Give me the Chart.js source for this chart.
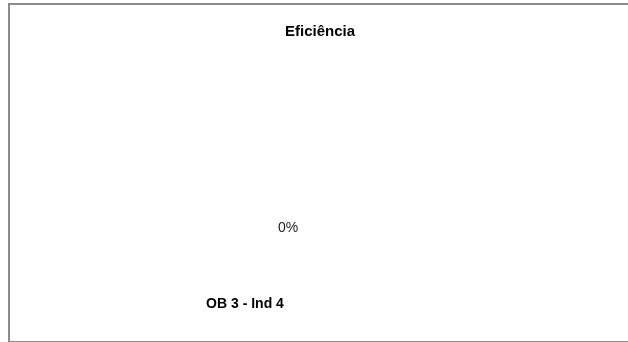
<!DOCTYPE html>
<html>
<head>
<meta charset="utf-8">
<script src="https://cdn.jsdelivr.net/npm/chart.js@4"></script>
<style>
  html, body { margin: 0; padding: 0; background: #fff; overflow: hidden; }
  #frame {
    position: absolute; left: 8px; top: 3px; width: 660px; height: 336px;
    border-top: 2px solid #8a8a8a; border-left: 2px solid #8a8a8a; border-bottom: 2px solid #8a8a8a;
  }
  #chart { position: absolute; left: 0; top: 0; }
</style>
</head>
<body>
<div id="frame"></div>
<canvas id="chart" width="628" height="342"></canvas>
<script>
const categories = ['OB 3 - Ind 4'];
const efficiency = [0];
const chartTitle = 'Eficiência';

// draws "0%" above each bar, like the excel data label
const valueLabels = {
  id: 'valueLabels',
  afterDatasetsDraw(chart) {
    const ctx = chart.ctx;
    ctx.save();
    ctx.font = '14px "Liberation Sans", sans-serif';
    ctx.fillStyle = '#222';
    ctx.textAlign = 'center';
    ctx.textBaseline = 'middle';
    chart.getDatasetMeta(0).data.forEach((bar, i) => {
      ctx.fillText(Math.round(efficiency[i] * 100) + '%', bar.x - 32, bar.y - 10);
    });
    ctx.restore();
  }
};

new Chart(document.getElementById('chart').getContext('2d'), {
  type: 'bar',
  data: {
    labels: categories,
    datasets: [{
      label: chartTitle,
      data: efficiency,
      backgroundColor: '#4f81bd'
    }]
  },
  options: {
    responsive: false,
    animation: false,
    layout: { padding: { left: 12, right: 0, top: 0, bottom: 24 } },
    plugins: {
      legend: { display: false },
      tooltip: { enabled: false },
      title: {
        display: true,
        text: chartTitle,
        color: '#000',
        font: { family: '"Liberation Sans", sans-serif', size: 15, weight: 'bold' },
        padding: { top: 23, bottom: 10 }
      }
    },
    scales: {
      x: {
        grid: { display: false },
        border: { display: false },
        afterFit(scale) { scale.height = 80; },
        ticks: {
          color: '#000',
          padding: 50,
          maxRotation: 0,
          labelOffset: -75,
          font: { family: '"Liberation Sans", sans-serif', size: 14, weight: 'bold' }
        }
      },
      y: { display: false, min: 0, max: 1 }
    }
  },
  plugins: [valueLabels]
});
</script>
</body>
</html>
